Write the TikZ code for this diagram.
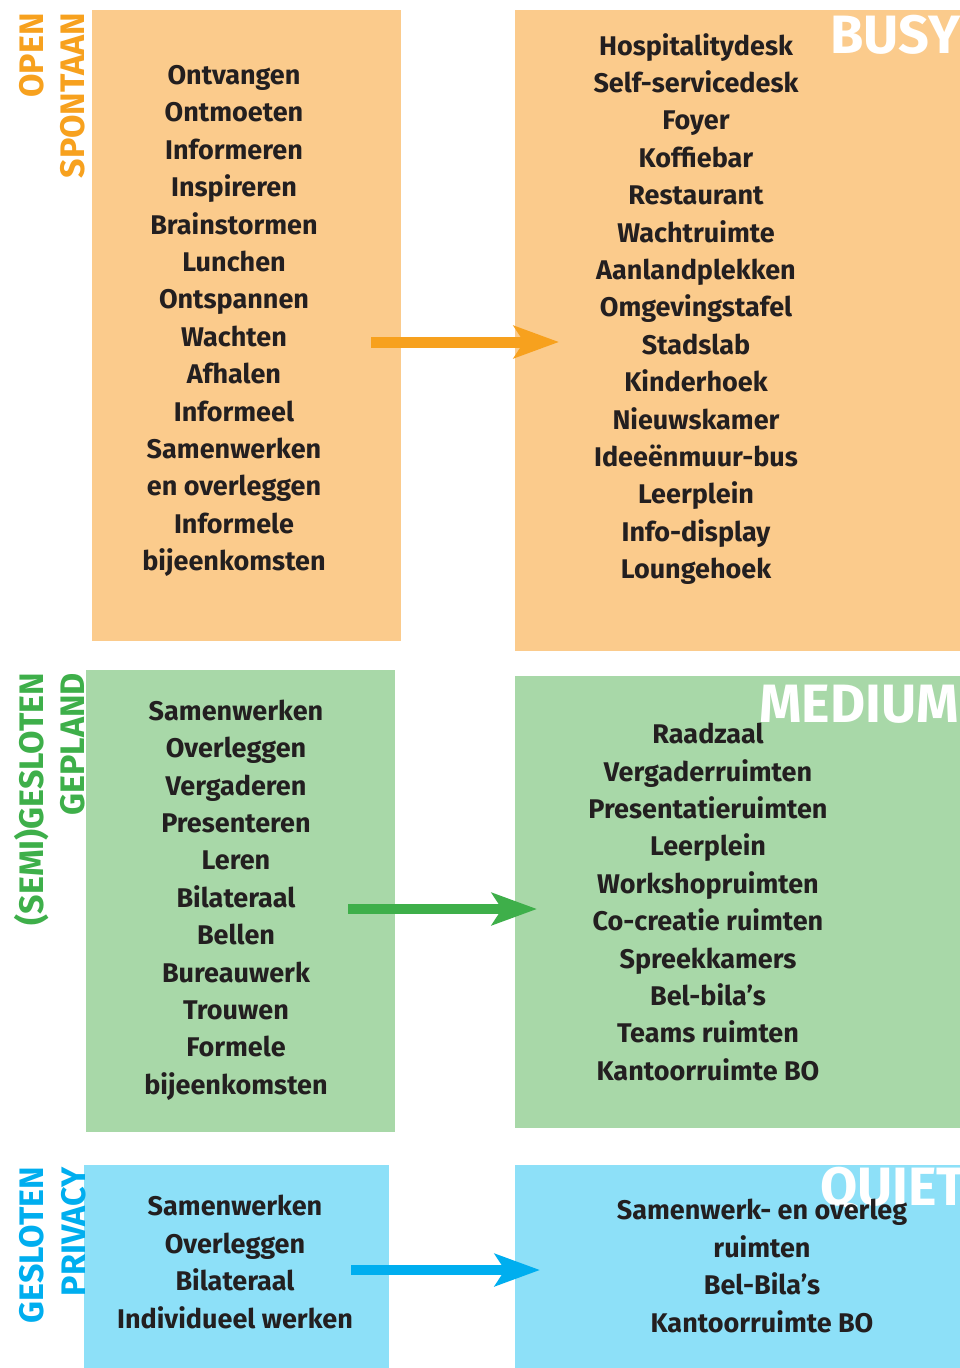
\documentclass[tikz,border=0pt]{standalone}
\usepackage{fontspec}
\setmainfont{Fira Sans}
\usetikzlibrary{arrows.meta}
\definecolor{orfill}{RGB}{251,203,140}
\definecolor{ordark}{RGB}{247,161,30}
\definecolor{grfill}{RGB}{168,216,168}
\definecolor{grdark}{RGB}{62,175,74}
\definecolor{blfill}{RGB}{141,224,248}
\definecolor{bldark}{RGB}{0,174,239}
\definecolor{txt}{RGB}{35,31,32}
\begin{document}
\begin{tikzpicture}[x=1pt,y=-1pt,
  list/.style={align=center,text=txt,inner sep=0pt,font=\bfseries\fontsize{27}{37.4}\selectfont},
  side/.style={rotate=90,anchor=base east,inner sep=0pt,font=\bfseries\fontsize{34}{34}\selectfont},
  big/.style={anchor=base west,inner sep=0pt,text=white,font=\bfseries\fontsize{54}{54}\selectfont},
  flow/.style={line width=11pt,-{Stealth[length=45pt,width=32pt,inset=10pt]}}]
\clip (0,0) rectangle (960,1368);
\fill[white] (0,0) rectangle (960,1368);
% panels
\fill[orfill] (92,10) rectangle (401,641);
\fill[orfill] (515,10) rectangle (960,651);
\fill[grfill] (86,670) rectangle (395,1132);
\fill[grfill] (515,676) rectangle (960,1128);
\fill[blfill] (84,1165) rectangle (389,1368);
\fill[blfill] (515,1165) rectangle (960,1368);
% big labels
\node[big] (busy) at (830,53) {BUSY};
\node[big] (medium) at (759,722) {MEDIUM};
\node[big] (quiet) at (820,1205) {QUIET};
% side labels
\node[side,text=ordark] (open) at (43,13) {OPEN};
\node[side,text=ordark] (spont) at (84,13) {SPONTAAN};
\node[side,text=grdark] (semi) at (43,673) {(SEMI)GESLOTEN};
\node[side,text=grdark] (gepl) at (84,673) {GEPLAND};
\node[side,text=bldark] (geslo) at (43,1167) {GESLOTEN};
\node[side,text=bldark] (priv) at (85,1167) {PRIVACY};
% lists
\node[list] (ol) at (234,321) {Ontvangen\\Ontmoeten\\Informeren\\Inspireren\\Brainstormen\\Lunchen\\Ontspannen\\Wachten\\Afhalen\\Informeel\\Samenwerken\\en overleggen\\Informele\\bijeenkomsten};
\node[list] (or) at (696,309) {Hospitalitydesk\\Self-servicedesk\\Foyer\\Koffiebar\\Restaurant\\Wachtruimte\\Aanlandplekken\\Omgevingstafel\\Stadslab\\Kinderhoek\\Nieuwskamer\\Ideeënmuur-bus\\Leerplein\\Info-display\\Loungehoek};
\node[list] (gl) at (236,900) {Samenwerken\\Overleggen\\Vergaderen\\Presenteren\\Leren\\Bilateraal\\Bellen\\Bureauwerk\\Trouwen\\Formele\\bijeenkomsten};
\node[list] (gr) at (708,902) {Raadzaal\\Vergaderruimten\\Presentatieruimten\\Leerplein\\Workshopruimten\\Co-creatie ruimten\\Spreekkamers\\Bel-bila’s\\Teams ruimten\\Kantoorruimte BO};
\node[list] (bl) at (235,1262) {Samenwerken\\Overleggen\\Bilateraal\\Individueel werken};
\node[list] (br) at (762,1266) {Samenwerk- en overleg\\ruimten\\Bel-Bila’s\\Kantoorruimte BO};
% arrows
\coordinate (a1s) at (371,342); \coordinate (a1e) at (559,342);
\coordinate (a2s) at (348,909); \coordinate (a2e) at (537,909);
\coordinate (a3s) at (351,1270); \coordinate (a3e) at (540,1270);
\draw[flow,ordark] (a1s) -- (a1e);
\draw[flow,grdark,line width=10pt] (a2s) -- (a2e);
\draw[flow,bldark,line width=10pt] (a3s) -- (a3e);
\end{tikzpicture}
\end{document}
